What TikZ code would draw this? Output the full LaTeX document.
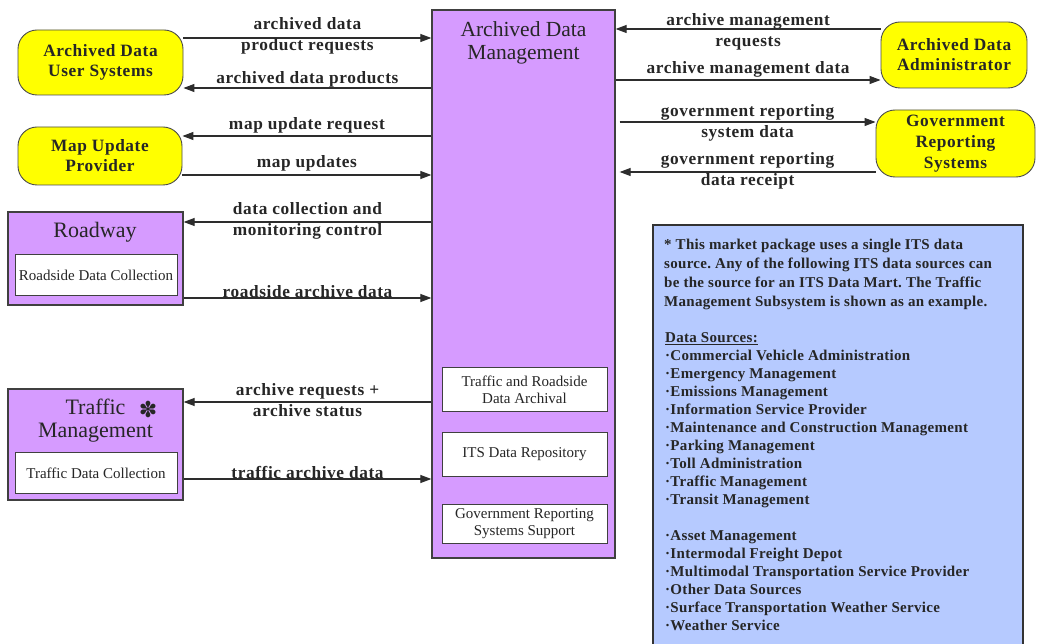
\documentclass[tikz,border=0pt]{standalone}
\usepackage{fontspec}
\setmainfont{Liberation Serif}
\newfontfamily\lblfont[LetterSpace=3.5]{Liberation Serif}
\newfontfamily\notefont[LetterSpace=2]{Liberation Serif}
\newfontfamily\symfont{DejaVu Sans}
\usetikzlibrary{arrows.meta,calc}
\definecolor{adpurple}{RGB}{214,155,255}
\definecolor{adyellow}{RGB}{255,255,0}
\definecolor{noteblue}{RGB}{182,202,255}
\definecolor{lineg}{RGB}{45,45,45}
\frenchspacing
\begin{document}
\begin{tikzpicture}[x=1pt,y=-1pt,
  every node/.style={text=black!85},
  arr/.style={draw=lineg, line width=1.1pt, -{Triangle[length=11pt,width=8pt]}},
  lbl/.style={font=\lblfont\bfseries\fontsize{17.3}{21}\selectfont, align=center, inner sep=0pt},
  term/.style={draw=black!70, line width=0.9pt, fill=adyellow, rounded corners=19pt, inner sep=0pt,
    font=\lblfont\bfseries\fontsize{17.3}{20}\selectfont, align=center},
  subsys/.style={draw=black!75, line width=1.3pt, fill=adpurple, inner sep=0pt},
  subbox/.style={draw=black!75, line width=1pt, fill=white, inner sep=0pt,
    font=\fontsize{15}{17}\selectfont, align=center},
  title/.style={font=\fontsize{22}{23}\selectfont, align=center, inner sep=0pt},
  notetext/.style={font=\notefont\bfseries\fontsize{15}{19}\selectfont, align=left, inner sep=0pt, anchor=north west},
]
\clip (0,0) rectangle (1037,644);
\fill[white] (0,0) rectangle (1037,644);

% central subsystem
\node[subsys, minimum width=183, minimum height=548] (adm) at (523.5,284) {};
\node[title, font=\fontsize{21.5}{23}\selectfont] (admt) at (523.5,42.5) {Archived Data\\Management};
\node[subbox, minimum width=165, minimum height=44] (arch) at (524.5,390) {Traffic and Roadside\\Data Archival};
\node[subbox, minimum width=165, minimum height=43] (repo) at (524.5,454.5) {ITS Data Repository};
\node[subbox, minimum width=165, minimum height=39] (grss) at (524.5,523.5) {Government Reporting\\Systems Support};

% terminators
\node[term, minimum width=165, minimum height=65] (adus) at (100.5,62.5) {Archived Data\\User Systems};
\node[term, minimum width=164, minimum height=58] (mup) at (100,156) {Map Update\\Provider};
\node[term, minimum width=146, minimum height=66] (ada) at (954,55) {Archived Data\\Administrator};
\node[term, minimum width=159, minimum height=67, font=\lblfont\bfseries\fontsize{17.3}{21}\selectfont] (grs) at (955.5,143.5) {Government\\Reporting\\Systems};

% field and center subsystems
\node[subsys, minimum width=175, minimum height=93] (road) at (95.5,258.5) {};
\node[title] (roadt) at (95,232) {Roadway};
\node[subbox, minimum width=162, minimum height=41] (rdc) at (96,275.5) {Roadside Data Collection};

\node[subsys, minimum width=175, minimum height=111] (tm) at (95.5,444.5) {};
\node[title] (tmt) at (95.5,421) {Traffic\\Management};
\node[inner sep=0pt, font=\symfont\bfseries\fontsize{22}{22}\selectfont] (star) at (148,409) {✽};
\node[subbox, minimum width=162, minimum height=40] (tdc) at (96,473) {Traffic Data Collection};

% flows, left side
\draw[arr] (adus.east |- 0,38) -- node[lbl, yshift=2] {archived data\\product requests} (adm.west |- 0,38);
\draw[arr] (adm.west |- 0,88) -- node[lbl, yshift=9] {archived data products} (adus.east |- 0,88);
\draw[arr] (adm.west |- 0,136) -- node[lbl, yshift=11] {map update request} (mup.east |- 0,136);
\draw[arr] (mup.east |- 0,175) -- node[lbl, yshift=12] {map updates} (adm.west |- 0,175);
\draw[arr] (adm.west |- 0,222) -- node[lbl, yshift=1.5] {data collection and\\monitoring control} (road.east |- 0,222);
\draw[arr] (road.east |- 0,298) -- node[lbl, yshift=6] {roadside archive data} (adm.west |- 0,298);
\draw[arr] (adm.west |- 0,402) -- node[lbl, yshift=1.5] {archive requests +\\archive status} (tm.east |- 0,402);
\draw[arr] (tm.east |- 0,479) -- node[lbl, yshift=7] {traffic archive data} (adm.west |- 0,479);

% flows, right side
\draw[arr] (ada.west |- 0,29) -- node[lbl, yshift=-2.5] {archive management\\requests} (adm.east |- 0,29);
\draw[arr] (adm.east |- 0,80) -- node[lbl, yshift=11] {archive management data} (ada.west |- 0,80);
\draw[arr] ($(adm.east |- 0,122)+(4,0)$) -- node[lbl, yshift=-0.5] {government reporting\\system data} (grs.west |- 0,122);
\draw[arr] (grs.west |- 0,172) -- node[lbl, yshift=1] {government reporting\\data receipt} ($(adm.east |- 0,172)+(4,0)$);

% note on data sources
\node[draw=black!80, line width=1.6pt, fill=noteblue, inner sep=0pt, anchor=north west,
  minimum width=370, minimum height=460] (note) at (652,224) {};
\node[notetext] (para) at (664,239) {* This market package uses a single ITS data\\
source. Any of the following ITS data sources can\\
be the source for an ITS Data Mart. The Traffic\\
Management Subsystem is shown as an example.};
\node[notetext, font=\notefont\bfseries\fontsize{15}{18}\selectfont] (srcs) at (665,332) {\underline{Data Sources:}\\
·Commercial Vehicle Administration\\
·Emergency Management\\
·Emissions Management\\
·Information Service Provider\\
·Maintenance and Construction Management\\
·Parking Management\\
·Toll Administration\\
·Traffic Management\\
·Transit Management\\[18pt]
·Asset Management\\
·Intermodal Freight Depot\\
·Multimodal Transportation Service Provider\\
·Other Data Sources\\
·Surface Transportation Weather Service\\
·Weather Service};
\end{tikzpicture}
\end{document}
